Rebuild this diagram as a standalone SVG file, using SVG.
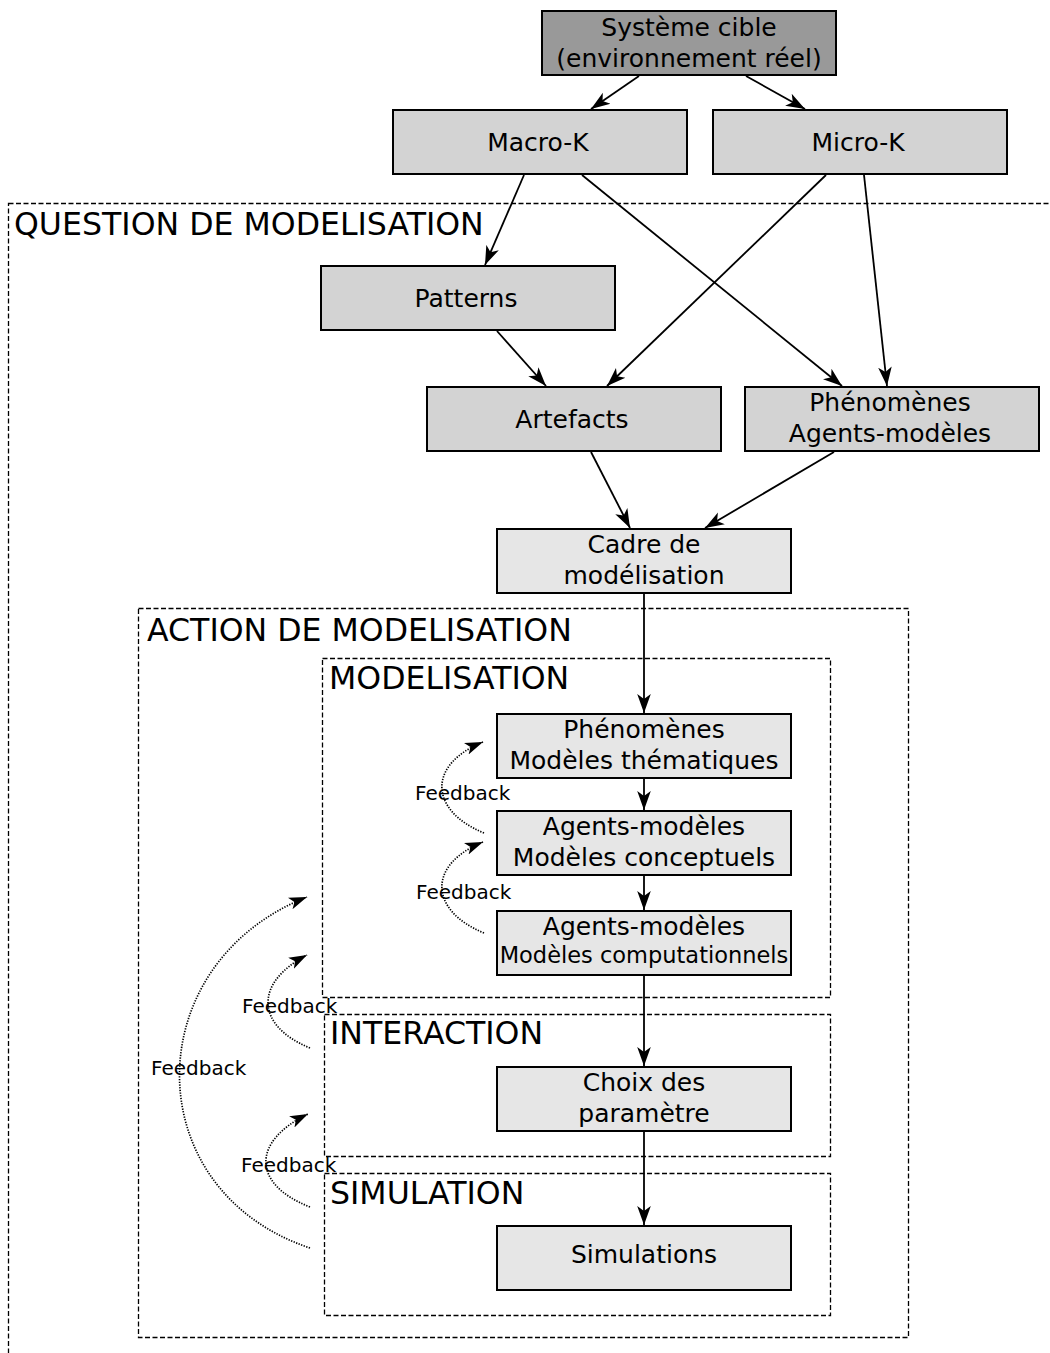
<svg xmlns="http://www.w3.org/2000/svg" width="1050" height="1353" viewBox="0 0 1050 1353">
<defs>
<marker id="ah" markerUnits="userSpaceOnUse" markerWidth="20" markerHeight="15" viewBox="0 0 20 15" refX="19" refY="7.5" orient="auto">
<path d="M0,0.7 L19,7.5 L0,14.3 L5,7.5 z" fill="#000"/>
</marker>
<marker id="ahs" markerUnits="userSpaceOnUse" markerWidth="19" markerHeight="14" viewBox="0 0 19 14" refX="18" refY="7" orient="auto">
<path d="M0,0.8 L18,7 L0,13.2 L4.5,7 z" fill="#000"/>
</marker>
<style>
text{font-family:"DejaVu Sans","Liberation Sans",sans-serif;fill:#000}
.n rect{stroke:#000;stroke-width:2}
.n text{font-size:25px;text-anchor:middle}
.d{fill:#e6e6e6}
.m{fill:#d3d3d3}
.zone{fill:none;stroke:#000;stroke-width:1.3;stroke-dasharray:5,2.5}
.title{font-size:31.6px}
.fb{font-size:20px}
.c{fill:none;stroke:#000;stroke-width:1.8;marker-end:url(#ah)}
.dot{fill:none;stroke:#000;stroke-width:1.7;stroke-dasharray:1.3,1.4;marker-end:url(#ahs)}
</style>
</defs>
<rect width="1050" height="1353" fill="#fff"/>

<g id="zones">
<rect class="zone" x="8.5" y="203.5" width="1100" height="1200"/>
<text class="title" x="14" y="235">QUESTION DE MODELISATION</text>
<rect class="zone" x="138.5" y="608.5" width="770" height="729"/>
<text class="title" x="147" y="641">ACTION DE MODELISATION</text>
<rect class="zone" x="322.5" y="658.5" width="508" height="339"/>
<text class="title" x="329" y="689">MODELISATION</text>
<rect class="zone" x="324.5" y="1014.5" width="506" height="142"/>
<text class="title" x="330" y="1044">INTERACTION</text>
<rect class="zone" x="324.5" y="1173.5" width="506" height="142"/>
<text class="title" x="330" y="1204">SIMULATION</text>
</g>

<g id="connectors">
<line class="c" x1="639" y1="76" x2="591" y2="109"/>
<line class="c" x1="746" y1="76" x2="805" y2="109"/>
<line class="c" x1="524" y1="175" x2="485" y2="265"/>
<line class="c" x1="582" y1="175" x2="842" y2="386"/>
<line class="c" x1="826" y1="175" x2="607" y2="386"/>
<line class="c" x1="864" y1="175" x2="887" y2="386"/>
<line class="c" x1="497" y1="331" x2="546" y2="386"/>
<line class="c" x1="591" y1="452" x2="630" y2="528"/>
<line class="c" x1="834" y1="452" x2="705" y2="528"/>
<line class="c" x1="644" y1="594" x2="644" y2="713"/>
<line class="c" x1="644" y1="779" x2="644" y2="810"/>
<line class="c" x1="644" y1="876" x2="644" y2="910"/>
<line class="c" x1="644" y1="976" x2="644" y2="1066"/>
<line class="c" x1="644" y1="1132" x2="644" y2="1225"/>
<path class="dot" d="M484,833 C428,810 428,764 483,742"/>
<path class="dot" d="M484,933 C428,910 428,864 483,842"/>
<path class="dot" d="M310,1048 C254,1025 255,982 307,955"/>
<path class="dot" d="M310,1207 C251,1184 252,1141 308,1114"/>
<path class="dot" d="M310,1248 C136,1190 137,964 307,897"/>
<text class="fb" x="415" y="800">Feedback</text>
<text class="fb" x="416" y="899">Feedback</text>
<text class="fb" x="242" y="1013">Feedback</text>
<text class="fb" x="241" y="1172">Feedback</text>
<text class="fb" x="151" y="1075">Feedback</text>
</g>

<g id="systeme" class="n"><rect x="542" y="11" width="294" height="64" fill="#999999"/><text x="689" y="36">Système cible</text><text x="689" y="67">(environnement réel)</text></g>
<g id="macro" class="n"><rect class="m" x="393" y="110" width="294" height="64"/><text x="538" y="151">Macro-K</text></g>
<g id="micro" class="n"><rect class="m" x="713" y="110" width="294" height="64"/><text x="858" y="151">Micro-K</text></g>
<g id="patterns" class="n"><rect class="m" x="321" y="266" width="294" height="64"/><text x="466" y="307">Patterns</text></g>
<g id="artefacts" class="n"><rect class="m" x="427" y="387" width="294" height="64"/><text x="572" y="428">Artefacts</text></g>
<g id="phen-am" class="n"><rect class="m" x="745" y="387" width="294" height="64"/><text x="890" y="411">Phénomènes</text><text x="890" y="442">Agents-modèles</text></g>
<g id="cadre" class="n"><rect class="d" x="497" y="529" width="294" height="64"/><text x="644" y="553">Cadre de</text><text x="644" y="584">modélisation</text></g>
<g id="phen-mt" class="n"><rect class="d" x="497" y="714" width="294" height="64"/><text x="644" y="738">Phénomènes</text><text x="644" y="769">Modèles thématiques</text></g>
<g id="am-conc" class="n"><rect class="d" x="497" y="811" width="294" height="64"/><text x="644" y="835">Agents-modèles</text><text x="644" y="866">Modèles conceptuels</text></g>
<g id="am-comp" class="n"><rect class="d" x="497" y="911" width="294" height="64"/><text x="644" y="935">Agents-modèles</text><text x="644" y="963" style="font-size:22.5px">Modèles computationnels</text></g>
<g id="choix" class="n"><rect class="d" x="497" y="1067" width="294" height="64"/><text x="644" y="1091">Choix des</text><text x="644" y="1122">paramètre</text></g>
<g id="simulations" class="n"><rect class="d" x="497" y="1226" width="294" height="64"/><text x="644" y="1263">Simulations</text></g>
</svg>
